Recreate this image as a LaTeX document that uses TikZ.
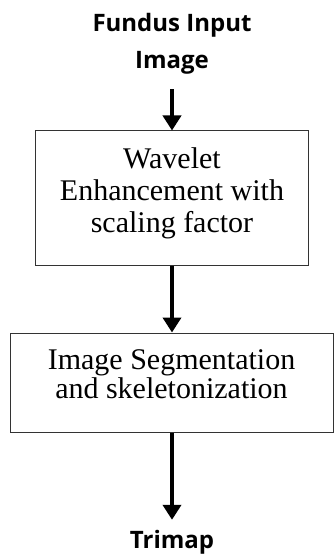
\documentclass[tikz,border=0pt]{standalone}
\usepackage{fontspec}
\setmainfont{Liberation Serif}
\newfontfamily\lblfont{Open Sans}
\usetikzlibrary{positioning, arrows.meta}

\begin{document}
\begin{tikzpicture}[
    x=1pt, y=-1pt,
    >={Triangle[length=15pt, width=18pt]},
    mod/.style={rectangle, draw=black!80, line width=1pt, minimum width=#1, align=center, inner sep=0pt},
    arr/.style={->, line width=4pt},
    lbl/.style={font=\lblfont\bfseries\fontsize{24}{37}\selectfont, align=center, inner sep=0pt}
]
\useasboundingbox (0,0) rectangle (335,556);

\node[lbl] (in) at (172,43.5) {Fundus Input\\Image};
\node[mod=273pt, minimum height=134pt, text depth=15pt, font=\fontsize{30}{32}\selectfont] (wav) at (172,198) {Wavelet\\Enhancement with\\scaling factor};
\node[mod=323pt, minimum height=99pt, text depth=17pt, font=\fontsize{30}{27}\selectfont] (seg) at (171.5,382.5) {Image Segmentation\\and skeletonization};
\node[lbl] (out) at (172,542) {Trimap};

\draw[arr, shorten <=15pt] (in) -- (wav);
\draw[arr] (wav) -- (seg.north -| wav);
\draw[arr, shorten >=10pt] (seg.south -| out) -- (out);

\end{tikzpicture}
\end{document}
